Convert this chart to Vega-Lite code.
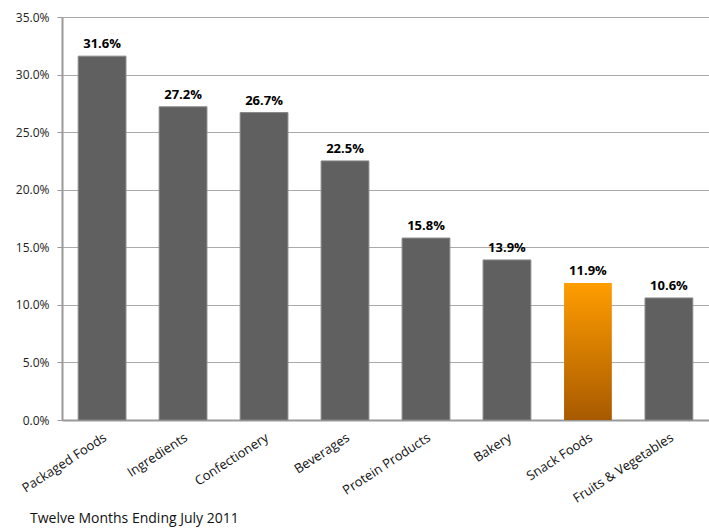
{
  "$schema": "https://vega.github.io/schema/vega-lite/v6.json",
  "width": 647,
  "height": 403,
  "autosize": {"type": "none"},
  "padding": {"left": 62, "top": 17, "right": 0, "bottom": 109},
  "background": "white",
  "config": {"view": {"stroke": null}, "font": "Open Sans"},
  "title": {
    "text": "Twelve Months Ending July 2011",
    "orient": "bottom",
    "anchor": "start",
    "frame": "group",
    "dx": -32,
    "offset": 7,
    "fontSize": 14,
    "fontWeight": "normal",
    "color": "#111",
    "font": "Open Sans"
  },
  "data": {
    "values": [
      {"category": "Packaged Foods", "value": 0.316, "highlight": false},
      {"category": "Ingredients", "value": 0.272, "highlight": false},
      {"category": "Confectionery", "value": 0.267, "highlight": false},
      {"category": "Beverages", "value": 0.225, "highlight": false},
      {"category": "Protein Products", "value": 0.158, "highlight": false},
      {"category": "Bakery", "value": 0.139, "highlight": false},
      {"category": "Snack Foods", "value": 0.119, "highlight": true},
      {"category": "Fruits & Vegetables", "value": 0.106, "highlight": false}
    ]
  },
  "encoding": {
    "x": {
      "field": "category",
      "type": "nominal",
      "sort": ["Packaged Foods", "Ingredients", "Confectionery", "Beverages", "Protein Products", "Bakery", "Snack Foods", "Fruits & Vegetables"],
      "scale": {"paddingInner": 0.41, "paddingOuter": 0.2},
      "axis": {
        "title": null,
        "labelAngle": -33,
        "labelAlign": "right",
        "labelBaseline": "top",
        "labelFontSize": 13,
        "labelColor": "#111",
        "labelPadding": 11,
        "ticks": false,
        "domainColor": "#999",
        "domainWidth": 2
      }
    },
    "y": {
      "field": "value",
      "type": "quantitative",
      "scale": {"domain": [0, 0.35], "nice": false},
      "axis": {
        "title": null,
        "format": ".1%",
        "values": [0, 0.05, 0.1, 0.15, 0.2, 0.25, 0.3, 0.35],
        "labelFontSize": 12,
        "labelColor": "#222",
        "labelPadding": 8,
        "tickSize": 5,
        "tickColor": "#999",
        "domainColor": "#999",
        "domainWidth": 2,
        "gridColor": "#aaa",
        "grid": true
      }
    }
  },
  "layer": [
    {
      "transform": [{"filter": "!datum.highlight"}],
      "mark": {"type": "bar", "color": "#606060", "stroke": "#888", "strokeWidth": 1}
    },
    {
      "transform": [{"filter": "datum.highlight"}],
      "mark": {
        "type": "bar",
        "fill": {
          "gradient": "linear",
          "x1": 0, "y1": 0, "x2": 0, "y2": 1,
          "stops": [
            {"offset": 0, "color": "#ff9d00"},
            {"offset": 1, "color": "#a85a00"}
          ]
        }
      }
    },
    {
      "mark": {"type": "text", "dy": -12, "fontWeight": "bold", "fontSize": 13, "color": "#000"},
      "encoding": {"text": {"field": "value", "type": "quantitative", "format": ".1%"}}
    }
  ]
}
